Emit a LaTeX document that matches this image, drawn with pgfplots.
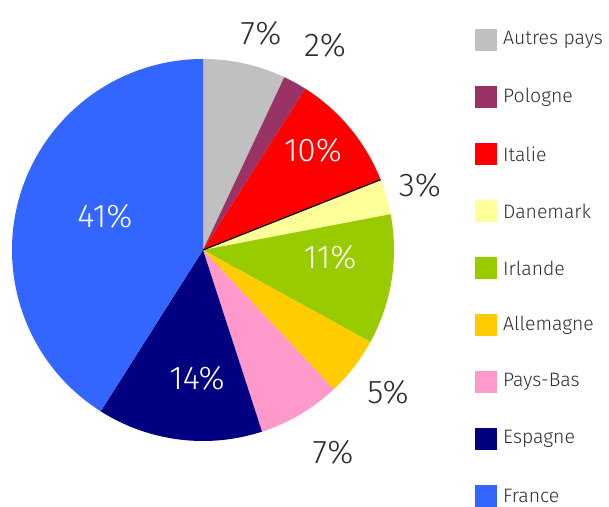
\documentclass[border=0pt]{standalone}
\usepackage{pgfplots}
\pgfplotsset{compat=1.18}
\usepackage{fontspec}
\setmainfont{Fira Sans}[UprightFont={* Light}]
\definecolor{cAutres}{RGB}{192,192,192}
\definecolor{cPologne}{RGB}{153,51,102}
\definecolor{cItalie}{RGB}{255,0,0}
\definecolor{cDanemark}{RGB}{255,255,153}
\definecolor{cIrlande}{RGB}{153,204,0}
\definecolor{cAllemagne}{RGB}{255,204,0}
\definecolor{cPaysBas}{RGB}{255,153,204}
\definecolor{cEspagne}{RGB}{0,0,128}
\definecolor{cFrance}{RGB}{51,102,255}
\definecolor{txt}{RGB}{45,45,45}

\begin{document}
\begin{tikzpicture}
\begin{axis}[
  name=ax,
  scale only axis, width=609bp, height=507bp,
  xmin=0, xmax=609, ymin=0, ymax=507,
  axis lines=none, clip=false,
]
% slices: share (%) / colour, clockwise from the top
\gdef\cum{0}
\foreach \v/\col in {7/cAutres, 2/cPologne, 10/cItalie, 3/cDanemark, 11/cIrlande,
                   5/cAllemagne, 7/cPaysBas, 14/cEspagne, 41/cFrance}{
  \pgfmathsetmacro\sa{90-3.6*\cum}
  \pgfmathsetmacro\ea{90-3.6*(\cum+\v)}
  \edef\temp{\noexpand\fill[\col] (axis cs:203,257) -- ++(\sa:191bp)
     arc[start angle=\sa, end angle=\ea, radius=191bp] -- cycle;}
  \temp
  \pgfmathsetmacro\n{\cum+\v}
  \xdef\cum{\n}
}
\draw[black, line width=1.2bp] (axis cs:203,257) -- ++(21.6:191bp);

% value labels
\begin{scope}[font=\fontsize{33}{35}\selectfont]
\node[txt] at (axis cs:261,474) {7\%};
\node[txt] at (axis cs:325,462) {2\%};
\node[white] at (axis cs:313,357) {10\%};
\node[txt] at (axis cs:420,322) {3\%};
\node[white] at (axis cs:330,250) {11\%};
\node[txt] at (axis cs:388,115) {5\%};
\node[txt] at (axis cs:333,55) {7\%};
\node[white] at (axis cs:197,129) {14\%};
\node[white] at (axis cs:105,291) {41\%};
\end{scope}

% legend
\foreach \col/\lab [count=\i from 0] in {cAutres/Autres pays, cPologne/Pologne, cItalie/Italie,
    cDanemark/Danemark, cIrlande/Irlande, cAllemagne/Allemagne, cPaysBas/Pays-Bas,
    cEspagne/Espagne, cFrance/France}{
  \pgfmathsetmacro\yy{467-57*\i}
  \pgfmathsetmacro\ylo{\yy-11}
  \pgfmathsetmacro\yhi{\yy+11}
  \edef\temp{\noexpand\fill[\col] (axis cs:475,\ylo) rectangle (axis cs:497,\yhi);
    \noexpand\node[txt, anchor=west, inner sep=0pt, font=\noexpand\fontsize{19.5}{21}\noexpand\selectfont]
      at (axis cs:503,\yy) {\lab};}
  \temp
}
\end{axis}
% arcs' control points would widen the box: keep it to the axis
\pgfresetboundingbox
\path (ax.south west) rectangle (ax.north east);
\end{tikzpicture}
\end{document}
